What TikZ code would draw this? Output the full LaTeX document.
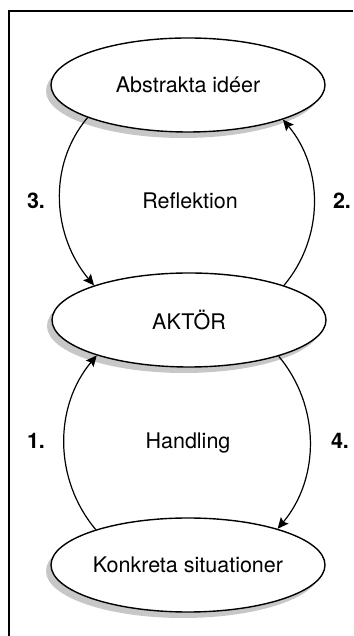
\documentclass[tikz,border=0pt]{standalone}
\usepackage{fontspec}
\setmainfont{TeX Gyre Heros}
\usetikzlibrary{shapes.geometric,shadows,arrows.meta}
\begin{document}
\begin{tikzpicture}[x=1pt,y=1pt,
  stage/.style={ellipse,draw,line width=1.4pt,fill=white,minimum width=274pt,minimum height=94pt,inner sep=0pt,
    font=\fontsize{21.5}{26}\selectfont,
    drop shadow={shadow xshift=-5pt,shadow yshift=-6pt,fill=black!22,opacity=1}},
  lbl/.style={font=\fontsize{21.5}{26}\selectfont,inner sep=0pt,anchor=base},
  num/.style={font=\fontsize{21.5}{26}\selectfont\bfseries,inner sep=0pt,anchor=base},
  flow/.style={line width=1.2pt,-{Stealth[length=11pt,width=10pt,inset=2pt]}},
  frame/.style={line width=1.5pt}]
\useasboundingbox (0,0) rectangle (353,636);
\coordinate (fb) at (9,0);
\coordinate (fc) at (9,625);
\coordinate (fr) at (353,625);
\draw[frame] (fb) -- (fc) -- (fr);
\node[stage] (abs) at (188,551) {Abstrakta idéer};
\node[stage] (akt) at (189,316) {AKTÖR};
\node[stage] (kon) at (188,71) {Konkreta situationer};
\node[lbl] (refl) at (190,427) {Reflektion};
\node[lbl] (hand) at (188,187) {Handling};
\node[num] (n3) at (36,427) {3.};
\node[num] (n2) at (342,427) {2.};
\node[num] (n1) at (36,187) {1.};
\node[num] (n4) at (340,187) {4.};
\draw[flow] (abs.198) to[out=230,in=130,looseness=0.97] (akt.160);
\draw[flow] (akt.20) to[out=50,in=310,looseness=0.97] (abs.340);
\draw[flow] (kon.159) to[out=130,in=230,looseness=0.97] (akt.201);
\draw[flow] (akt.338) to[out=310,in=50,looseness=0.97] (kon.22);
\end{tikzpicture}
\end{document}
